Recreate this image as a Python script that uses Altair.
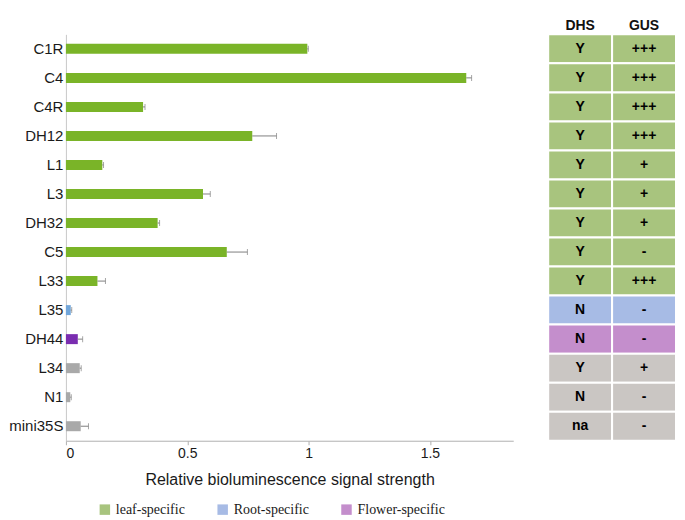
import altair as alt
import pandas as pd

names = ["C1R", "C4", "C4R", "DH12", "L1", "L3", "DH32", "C5", "L33", "L35", "DH44", "L34", "N1", "mini35S"]
values = [0.995, 1.65, 0.318, 0.768, 0.150, 0.565, 0.378, 0.663, 0.130, 0.020, 0.049, 0.057, 0.018, 0.061]
errors = [0.004, 0.022, 0.008, 0.100, 0.005, 0.030, 0.008, 0.085, 0.033, 0.004, 0.020, 0.006, 0.004, 0.032]
groups = ["leaf-specific"] * 9 + ["Root-specific", "Flower-specific", "other", "other", "other"]
dhs = ["Y"] * 9 + ["N", "N", "Y", "N", "na"]
gus = ["+++", "+++", "+++", "+++", "+", "+", "+", "-", "+++", "-", "-", "+", "-", "-"]

group_order = ["leaf-specific", "Root-specific", "Flower-specific", "other"]
bar_colors = ["#7ab428", "#72a6da", "#7a2db0", "#a9a9a9"]
table_colors = ["#a8c47e", "#a7bbe5", "#c48ecc", "#cac6c3"]

df = pd.DataFrame({"name": names, "value": values, "err": errors, "group": groups})
df["hi"] = df["value"] + df["err"]

rows = []
for n, g, d, s in zip(names, groups, dhs, gus):
    rows.append({"name": n, "group": g, "col": "DHS", "val": d})
    rows.append({"name": n, "group": g, "col": "GUS", "val": s})
tdf = pd.DataFrame(rows)

W_BAR = 448
H = 407
XMAX = W_BAR / 243.0

yscale = alt.Scale(paddingInner=0, paddingOuter=0)

base = alt.Chart(df).encode(
    y=alt.Y("name:N", sort=names, scale=yscale,
            axis=alt.Axis(title=None, ticks=False, labelFontSize=15, labelColor="#1a1a1a",
                          labelFont="Liberation Sans", labelPadding=3, domainColor="#c8c8c8"))
)

xaxis = alt.Axis(values=[0, 0.5, 1, 1.5], format="~g", grid=False, tickSize=4, tickColor="#b0b0b0",
                 domainColor="#b0b0b0", labelFontSize=14, labelColor="#1a1a1a", labelFont="Liberation Sans",
                 title="Relative bioluminescence signal strength", titleFontSize=16,
                 titleFontWeight="normal", titleColor="#1a1a1a", titleFont="Liberation Sans", titlePadding=11)

bars = base.mark_bar(size=10).encode(
    x=alt.X("value:Q", scale=alt.Scale(domain=[0, XMAX], nice=False), axis=xaxis),
    color=alt.Color("group:N", scale=alt.Scale(domain=group_order, range=bar_colors), legend=None),
)
err = base.mark_rule(color="#808080", strokeWidth=1).encode(x="value:Q", x2="hi:Q")
cap = base.mark_tick(color="#808080", thickness=1, size=6, orient="vertical").encode(x="hi:Q")
legend_layer = base.mark_square(filled=True, opacity=1).encode(
    x="value:Q",
    color=alt.Color("group:N", scale=alt.Scale(domain=group_order, range=table_colors),
                    legend=alt.Legend(values=group_order[:3], title=None, orient="none",
                                      direction="horizontal", legendX=32, legendY=469,
                                      symbolType="square", symbolSize=110, symbolStrokeWidth=0,
                                      labelFont="Liberation Serif", labelFontSize=14,
                                      labelColor="#1a1a1a", columnPadding=30)),
).transform_filter("false")

left = alt.layer(bars, err, cap, legend_layer).resolve_scale(color="independent").properties(
    width=W_BAR, height=H)

tbase = alt.Chart(tdf).encode(
    x=alt.X("col:N", sort=["DHS", "GUS"], scale=alt.Scale(paddingInner=0, paddingOuter=0),
            axis=alt.Axis(orient="top", title=None, domain=False, ticks=False, labelAngle=0,
                          labelFontWeight="bold", labelFontSize=14, labelColor="#111111",
                          labelFont="Liberation Sans", labelPadding=2)),
    y=alt.Y("name:N", sort=names, scale=yscale, axis=None),
)
cells = tbase.mark_rect(stroke="white", strokeWidth=2).encode(
    color=alt.Color("group:N", scale=alt.Scale(domain=group_order, range=table_colors), legend=None)
)
texts = tbase.mark_text(fontWeight="bold", fontSize=14, font="Liberation Sans", color="#000000").encode(
    text="val:N")
right = alt.layer(cells, texts).properties(width=128, height=H)

chart = alt.hconcat(left, right, spacing=34).resolve_scale(color="independent", y="independent").properties(
    padding={"left": 0, "top": 10, "right": 0, "bottom": 0}
).configure_view(stroke=None)

chart.save("out.html", embed_options={"renderer": "svg", "actions": False})
